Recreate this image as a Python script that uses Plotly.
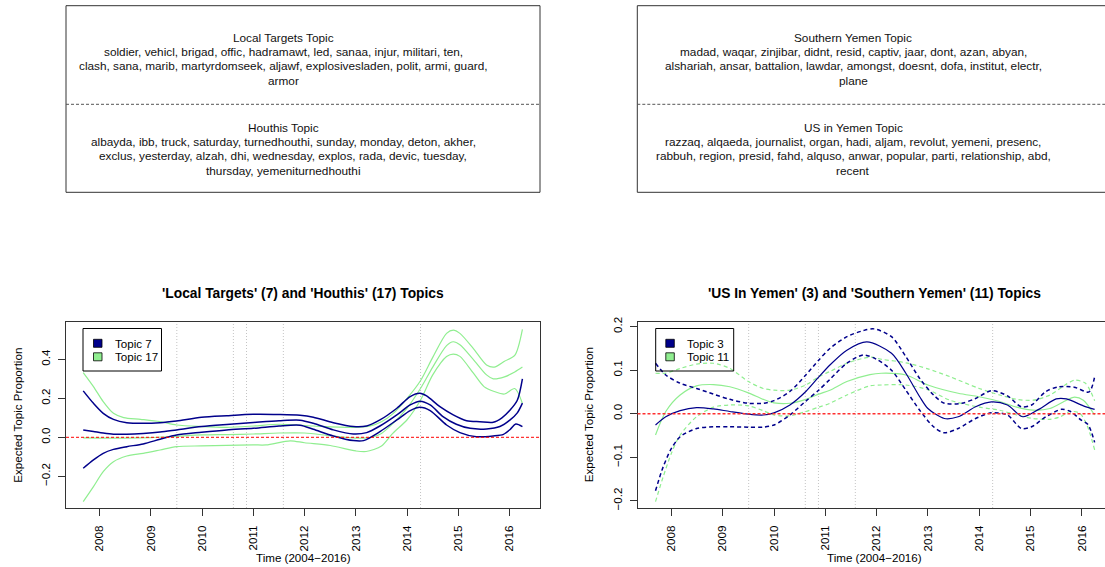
import textwrap
import plotly.graph_objects as go

# ---------------- data ----------------
years_ticks = [2008, 2009, 2010, 2011, 2012, 2013, 2014, 2015, 2016]
event_dates = [2009.506, 2010.61, 2010.866, 2011.585, 2014.262]

# Left panel: Topic 7 (Local Targets) and Topic 17 (Houthis)
t7_hi_x = [2007.68, 2007.88, 2008.07, 2008.27, 2008.53, 2008.85, 2009.18, 2009.50, 2009.99, 2010.48, 2011.0, 2011.5,
           2011.91, 2012.17, 2012.56, 2012.95, 2013.21, 2013.47, 2013.80, 2014.06, 2014.25, 2014.38, 2014.64, 2014.90,
           2015.16, 2015.42, 2015.68, 2015.85, 2016.01, 2016.15, 2016.25]
t7_hi_y = [0.238, 0.174, 0.123, 0.092, 0.075, 0.072, 0.075, 0.084, 0.103, 0.111, 0.118, 0.117,
           0.113, 0.103, 0.075, 0.055, 0.058, 0.089, 0.149, 0.209, 0.226, 0.212, 0.157, 0.115,
           0.085, 0.080, 0.077, 0.100, 0.140, 0.190, 0.300]
t7_x = [2007.68, 2007.88, 2008.07, 2008.27, 2008.53, 2008.85, 2009.18, 2009.50, 2009.99, 2010.48, 2011.0, 2011.5,
        2011.91, 2012.17, 2012.56, 2012.95, 2013.21, 2013.47, 2013.80, 2014.06, 2014.25, 2014.45, 2014.70, 2014.96,
        2015.23, 2015.55, 2015.81, 2016.01, 2016.15, 2016.25]
t7_y = [0.038, 0.030, 0.022, 0.016, 0.016, 0.020, 0.027, 0.038, 0.055, 0.066, 0.076, 0.085,
        0.088, 0.072, 0.038, 0.017, 0.024, 0.058, 0.115, 0.166, 0.185, 0.166, 0.106, 0.067,
        0.046, 0.043, 0.055, 0.089, 0.125, 0.175]
t7_lo_x = [2007.68, 2007.88, 2008.07, 2008.27, 2008.53, 2008.85, 2009.18, 2009.50, 2009.99, 2010.48, 2011.0, 2011.5,
           2011.91, 2012.17, 2012.56, 2012.95, 2013.15, 2013.47, 2013.80, 2014.06, 2014.25, 2014.45, 2014.77, 2015.03,
           2015.35, 2015.68, 2015.88, 2016.01, 2016.12, 2016.25]
t7_lo_y = [-0.159, -0.116, -0.082, -0.062, -0.048, -0.034, -0.010, 0.012, 0.026, 0.038, 0.046, 0.058,
           0.062, 0.041, 0.007, -0.017, -0.017, 0.029, 0.089, 0.137, 0.154, 0.137, 0.063, 0.024,
           0.003, 0.007, 0.015, 0.040, 0.068, 0.055]

t17_hi_x = [2007.68, 2007.88, 2008.07, 2008.27, 2008.47, 2008.8, 2009.18, 2009.50, 2009.99, 2010.48, 2011.0, 2011.5,
            2012.17, 2012.95, 2013.3, 2013.5, 2013.72, 2014.0, 2014.26, 2014.5, 2014.77, 2014.90, 2015.03, 2015.29,
            2015.55, 2015.7, 2015.9, 2016.1, 2016.25]
t17_hi_y = [0.332, 0.260, 0.183, 0.123, 0.101, 0.092, 0.080, 0.063, 0.055, 0.051, 0.058, 0.067,
            0.058, 0.051, 0.060, 0.080, 0.120, 0.200, 0.290, 0.410, 0.533, 0.550, 0.533, 0.456,
            0.371, 0.360, 0.390, 0.420, 0.554]
t17_x = [2007.68, 2008.0, 2008.5, 2009.0, 2009.5, 2010.0, 2010.5, 2011.0, 2011.5, 2012.0, 2012.5, 2013.0, 2013.3,
         2013.5, 2013.72, 2014.0, 2014.26, 2014.5, 2014.77, 2014.90, 2015.03, 2015.29, 2015.55, 2015.68, 2015.9,
         2016.1, 2016.25]
t17_y = [-0.003, -0.004, -0.004, -0.002, 0.005, 0.012, 0.014, 0.017, 0.022, 0.022, 0.008, -0.004, 0.0,
         0.020, 0.070, 0.150, 0.250, 0.360, 0.470, 0.490, 0.475, 0.400, 0.320, 0.300, 0.310,
         0.335, 0.360]
t17_lo_x = [2007.68, 2007.88, 2008.07, 2008.27, 2008.53, 2008.85, 2009.18, 2009.50, 2009.99, 2010.48, 2011.0, 2011.25,
            2011.72, 2012.0, 2012.5, 2013.0, 2013.2, 2013.5, 2013.72, 2014.0, 2014.26, 2014.5, 2014.77, 2014.90,
            2015.03, 2015.29, 2015.5, 2015.7, 2015.9, 2016.1, 2016.25]
t17_lo_y = [-0.330, -0.253, -0.176, -0.125, -0.096, -0.082, -0.065, -0.048, -0.044, -0.041, -0.039, -0.039,
            -0.018, -0.028, -0.042, -0.070, -0.073, -0.045, 0.020, 0.090, 0.190, 0.320, 0.414, 0.427,
            0.415, 0.330, 0.260, 0.235, 0.222, 0.250, 0.174]

# Right panel: Topic 3 (US in Yemen) and Topic 11 (Southern Yemen)
t3_x = [2007.69, 2007.89, 2008.17, 2008.49, 2008.82, 2009.14, 2009.50, 2009.79, 2010.0, 2010.31, 2010.62, 2010.87,
        2011.09, 2011.42, 2011.81, 2012.29, 2012.57, 2012.84, 2013.0, 2013.32, 2013.59, 2013.93, 2014.24, 2014.55,
        2014.85, 2015.16, 2015.5, 2015.7, 2016.03, 2016.25]
t3_y = [-0.026, -0.007, 0.007, 0.014, 0.011, 0.005, -0.001, -0.003, 0.002, 0.020, 0.051, 0.084,
        0.112, 0.146, 0.165, 0.139, 0.093, 0.039, 0.012, -0.011, -0.007, 0.016, 0.027, 0.020,
        -0.007, 0.010, 0.034, 0.034, 0.018, 0.010]
t3_hi_x = [2007.69, 2007.89, 2008.17, 2008.49, 2008.82, 2009.14, 2009.50, 2009.79, 2010.0, 2010.31, 2010.62, 2010.87,
           2011.09, 2011.42, 2011.74, 2011.95, 2012.29, 2012.57, 2012.84, 2013.11, 2013.32, 2013.66, 2013.93, 2014.24,
           2014.55, 2014.82, 2015.02, 2015.3, 2015.55, 2015.85, 2016.14, 2016.25]
t3_hi_y = [0.116, 0.089, 0.070, 0.058, 0.045, 0.033, 0.024, 0.024, 0.030, 0.051, 0.089, 0.123,
           0.150, 0.177, 0.191, 0.195, 0.177, 0.131, 0.081, 0.043, 0.024, 0.024, 0.035, 0.053,
           0.041, 0.016, 0.020, 0.051, 0.062, 0.061, 0.050, 0.085]
t3_lo_x = [2007.69, 2007.84, 2008.0, 2008.17, 2008.49, 2008.82, 2009.14, 2009.50, 2009.79, 2010.0, 2010.31, 2010.62,
           2010.87, 2011.09, 2011.42, 2011.74, 2012.0, 2012.29, 2012.57, 2012.84, 2013.11, 2013.32, 2013.59, 2013.93,
           2014.24, 2014.55, 2014.82, 2015.02, 2015.3, 2015.6, 2015.78, 2015.99, 2016.12, 2016.25]
t3_lo_y = [-0.177, -0.122, -0.080, -0.053, -0.034, -0.030, -0.030, -0.031, -0.031, -0.026, -0.003, 0.029,
           0.054, 0.079, 0.116, 0.135, 0.125, 0.100, 0.054, 0.008, -0.030, -0.044, -0.034, -0.011,
           0.002, -0.003, -0.034, -0.030, -0.007, 0.010, 0.005, -0.015, -0.025, -0.066]

t11_x = [2007.69, 2007.89, 2008.17, 2008.49, 2008.82, 2009.14, 2009.50, 2009.79, 2010.0, 2010.31, 2010.62, 2010.87,
         2011.09, 2011.42, 2011.87, 2012.09, 2012.57, 2013.0, 2013.59, 2014.0, 2014.4, 2014.73, 2015.05, 2015.38,
         2015.7, 2015.86, 2016.03, 2016.25]
t11_y = [-0.049, 0.005, 0.043, 0.064, 0.067, 0.062, 0.048, 0.033, 0.025, 0.024, 0.033, 0.045,
         0.054, 0.074, 0.090, 0.093, 0.089, 0.066, 0.047, 0.039, 0.028, 0.015, 0.008, 0.012,
         0.031, 0.038, 0.031, -0.003]
t11_hi_x = [2007.69, 2007.89, 2008.17, 2008.49, 2008.82, 2009.14, 2009.50, 2009.79, 2010.0, 2010.31, 2010.62, 2010.87,
            2011.09, 2011.42, 2011.87, 2012.1, 2012.57, 2013.0, 2013.43, 2014.0, 2014.4, 2014.73, 2015.05, 2015.38,
            2015.7, 2015.86, 2016.06, 2016.16, 2016.25]
t11_hi_y = [0.093, 0.093, 0.104, 0.114, 0.116, 0.104, 0.074, 0.058, 0.054, 0.054, 0.066, 0.085,
            0.097, 0.116, 0.130, 0.125, 0.117, 0.103, 0.085, 0.058, 0.043, 0.033, 0.031, 0.043,
            0.068, 0.077, 0.071, 0.054, 0.030]
t11_lo_x = [2007.69, 2007.84, 2008.0, 2008.17, 2008.49, 2008.82, 2009.14, 2009.50, 2009.79, 2010.0, 2010.31, 2010.62,
            2010.87, 2011.09, 2011.42, 2011.87, 2012.1, 2012.57, 2013.0, 2013.43, 2014.0, 2014.4, 2014.73, 2015.05,
            2015.38, 2015.58, 2015.77, 2015.96, 2016.1, 2016.25]
t11_lo_y = [-0.202, -0.145, -0.091, -0.049, -0.007, 0.015, 0.020, 0.018, 0.007, -0.003, -0.005, 0.005,
            0.015, 0.024, 0.043, 0.064, 0.066, 0.066, 0.055, 0.031, 0.015, 0.008, -0.003, -0.011,
            -0.013, -0.007, 0.005, 0.001, -0.026, -0.083]

left_title = "'Local Targets' (7) and 'Houthis' (17) Topics"
right_title = "'US In Yemen' (3) and 'Southern Yemen' (11) Topics"
left_legend = ["Topic 7", "Topic 17"]
right_legend = ["Topic 3", "Topic 11"]
xlabel = "Time (2004\u22122016)"
ylabel = "Expected Topic Proportion"
left_yticks = [-0.2, 0.0, 0.2, 0.4]
right_yticks = [-0.2, -0.1, 0.0, 0.1, 0.2]

topic_local = ["soldier", "vehicl", "brigad", "offic", "hadramawt", "led", "sanaa", "injur", "militari", "ten",
               "clash", "sana", "marib", "martyrdomseek", "aljawf", "explosivesladen", "polit", "armi", "guard", "armor"]
topic_houthi = ["albayda", "ibb", "truck", "saturday", "turnedhouthi", "sunday", "monday", "deton", "akher",
                "exclus", "yesterday", "alzah", "dhi", "wednesday", "explos", "rada", "devic", "tuesday",
                "thursday", "yemeniturnedhouthi"]
topic_south = ["madad", "waqar", "zinjibar", "didnt", "resid", "captiv", "jaar", "dont", "azan", "abyan",
               "alshariah", "ansar", "battalion", "lawdar", "amongst", "doesnt", "dofa", "institut", "electr", "plane"]
topic_us = ["razzaq", "alqaeda", "journalist", "organ", "hadi", "aljam", "revolut", "yemeni", "presenc",
            "rabbuh", "region", "presid", "fahd", "alquso", "anwar", "popular", "parti", "relationship", "abd", "recent"]

# ---------------- styling / layout ----------------
W, H = 1105, 567
FONT = "Liberation Sans, Arial, Helvetica, sans-serif"
FS = 11.6
BLUE = "#00008B"
GREEN = "#90EE90"
FRAME = "#333333"


def PX(x):
    return x / W


def PY(y):
    return 1 - y / H


fig = go.Figure()


def add_line(xs, ys, color, width, xa, ya, dash="solid"):
    fig.add_trace(go.Scatter(x=xs, y=ys, mode="lines", xaxis=xa, yaxis=ya,
                             line=dict(color=color, width=width, dash=dash, shape="spline", smoothing=0.8),
                             hoverinfo="skip", showlegend=False))


# left panel
for xs, ys in [(t17_hi_x, t17_hi_y), (t17_x, t17_y), (t17_lo_x, t17_lo_y)]:
    add_line(xs, ys, GREEN, 1.2, "x", "y")
for xs, ys in [(t7_hi_x, t7_hi_y), (t7_x, t7_y), (t7_lo_x, t7_lo_y)]:
    add_line(xs, ys, BLUE, 1.5, "x", "y")
# right panel
add_line(t11_hi_x, t11_hi_y, GREEN, 1.2, "x2", "y2", dash="4px,3px")
add_line(t11_lo_x, t11_lo_y, GREEN, 1.2, "x2", "y2", dash="4px,3px")
add_line(t11_x, t11_y, GREEN, 1.2, "x2", "y2")
add_line(t3_hi_x, t3_hi_y, BLUE, 1.5, "x2", "y2", dash="4px,3px")
add_line(t3_lo_x, t3_lo_y, BLUE, 1.5, "x2", "y2", dash="4px,3px")
add_line(t3_x, t3_y, BLUE, 1.2, "x2", "y2")

shapes = []
annotations = []

# event lines and zero lines
for xr, yr in [("x", "y"), ("x2", "y2")]:
    for d in event_dates:
        shapes.append(dict(type="line", xref=xr, yref=yr + " domain", x0=d, x1=d, y0=0, y1=1,
                           line=dict(color="#c4c4c4", width=1, dash="1px,2px"), layer="below"))
shapes.append(dict(type="line", xref="x domain", yref="y", x0=0, x1=1, y0=0, y1=0,
                   line=dict(color="red", width=1, dash="3px,2px")))
shapes.append(dict(type="line", xref="x2 domain", yref="y2", x0=0, x1=1, y0=0, y1=0,
                   line=dict(color="#ff3030", width=1.6, dash="3px,2px")))


# top word boxes
def word_box(x0, x1, xc, title1, words1, title2, words2, closed):
    y0, ymid, y1 = 5.7, 104.3, 192.3
    if closed:
        shapes.append(dict(type="rect", xref="paper", yref="paper", x0=PX(x0), x1=PX(x1), y0=PY(y1), y1=PY(y0),
                           line=dict(color=FRAME, width=1)))
    else:
        for (a, b, c, d) in [(x0, y0, x1, y0), (x0, y1, x1, y1), (x0, y0, x0, y1)]:
            shapes.append(dict(type="line", xref="paper", yref="paper", x0=PX(a), y0=PY(b), x1=PX(c), y1=PY(d),
                               line=dict(color=FRAME, width=1)))
    shapes.append(dict(type="line", xref="paper", yref="paper", x0=PX(x0), x1=PX(x1), y0=PY(ymid), y1=PY(ymid),
                       line=dict(color="#555555", width=1, dash="3px,2px")))
    for start, title, words in [(38.3, title1, words1), (128.3, title2, words2)]:
        lines = [title] + textwrap.wrap(", ".join(words), width=80)
        for i, ln in enumerate(lines):
            annotations.append(dict(text=ln, xref="paper", yref="paper", x=PX(xc), y=PY(start + i * 14.1),
                                    xanchor="center", yanchor="middle", showarrow=False,
                                    font=dict(family=FONT, size=11.8, color="#111111")))


word_box(66, 540, 283, "Local Targets Topic", topic_local, "Houthis Topic", topic_houthi, True)
word_box(637.3, 1105, 853, "Southern Yemen Topic", topic_south, "US in Yemen Topic", topic_us, False)

# titles and axis labels
for xc, t in [(303, left_title), (874, right_title)]:
    annotations.append(dict(text="<b>" + t + "</b>", xref="paper", yref="paper", x=PX(xc), y=PY(293.3),
                            xanchor="center", yanchor="middle", showarrow=False,
                            font=dict(family=FONT, size=13.8, color="black")))
for xc in [303, 874]:
    annotations.append(dict(text=xlabel, xref="paper", yref="paper", x=PX(xc), y=PY(557),
                            xanchor="center", yanchor="middle", showarrow=False,
                            font=dict(family=FONT, size=FS, color="black")))
for xc in [16.8, 588.3]:
    annotations.append(dict(text=ylabel, xref="paper", yref="paper", x=PX(xc), y=PY(415),
                            xanchor="center", yanchor="middle", showarrow=False, textangle=-90,
                            font=dict(family=FONT, size=FS, color="black")))


# legends
def legend(bx0, bx1, sq0, tx, labels):
    shapes.append(dict(type="rect", xref="paper", yref="paper", x0=PX(bx0), x1=PX(bx1), y0=PY(371), y1=PY(328.5),
                       line=dict(color="black", width=1)))
    for lab, col, yc in zip(labels, [BLUE, GREEN], [343.3, 356.8]):
        shapes.append(dict(type="rect", xref="paper", yref="paper", x0=PX(sq0), x1=PX(sq0 + 8.5),
                           y0=PY(yc + 4), y1=PY(yc - 4), fillcolor=col, line=dict(color="black", width=0.8)))
        annotations.append(dict(text=lab, xref="paper", yref="paper", x=PX(tx), y=PY(yc),
                                xanchor="left", yanchor="middle", showarrow=False,
                                font=dict(family=FONT, size=FS, color="black")))


legend(83, 161.5, 93.5, 112.5, left_legend)
legend(655.7, 733.7, 665.8, 684.8, right_legend)

ydom = [PY(508), PY(322)]
axis_common = dict(showgrid=False, zeroline=False, showline=True, linecolor=FRAME, linewidth=1,
                   ticks="outside", ticklen=7, tickcolor=FRAME, tickwidth=1,
                   tickfont=dict(family=FONT, size=FS, color="black"), automargin=False)

fig.update_layout(
    width=W, height=H, margin=dict(l=0, r=0, t=0, b=0),
    paper_bgcolor="white", plot_bgcolor="white", showlegend=False,
    xaxis=dict(domain=[PX(66), PX(540)], range=[2007.344, 2016.593], anchor="y",
               tickvals=years_ticks, ticktext=[str(v) for v in years_ticks], tickangle=-90,
               ticklabelstandoff=5, mirror=True, **axis_common),
    yaxis=dict(domain=ydom, range=[-0.3626, 0.5913], anchor="x",
               tickvals=left_yticks, ticktext=[f"{v:.1f}".replace("-", "\u2212") for v in left_yticks],
               tickangle=-90, ticklabelstandoff=3, mirror=True, **axis_common),
    xaxis2=dict(domain=[PX(637.5), 1.0], range=[2007.339, 2016.452], anchor="y2",
                tickvals=years_ticks, ticktext=[str(v) for v in years_ticks], tickangle=-90,
                ticklabelstandoff=5, mirror=True, **axis_common),
    yaxis2=dict(domain=ydom, range=[-0.2168, 0.2108], anchor="x2",
                tickvals=right_yticks, ticktext=[f"{v:.1f}".replace("-", "\u2212") for v in right_yticks],
                tickangle=-90, ticklabelstandoff=3, mirror=False, **axis_common),
    shapes=shapes, annotations=annotations,
)

fig.write_html("out.html")
